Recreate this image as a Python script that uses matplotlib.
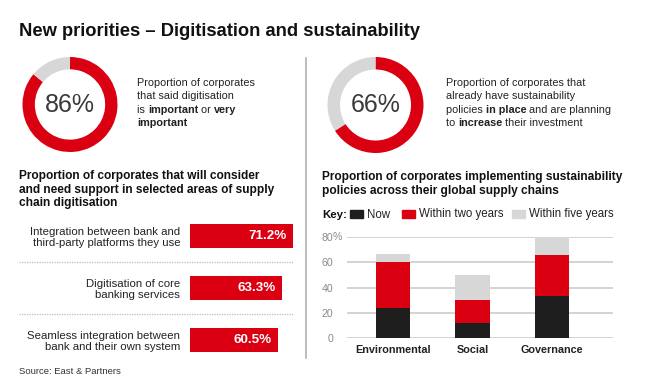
import matplotlib
matplotlib.use("Agg")
import matplotlib.pyplot as plt
from matplotlib.patches import Rectangle
import numpy as np

plt.rcParams['font.family'] = ['Liberation Sans', 'DejaVu Sans']

# ---------------- data ----------------
title = "New priorities \u2013 Digitisation and sustainability"

donut_left_value = 86
donut_right_value = 66

areas = ["Integration between bank and\nthird-party platforms they use",
         "Digitisation of core\nbanking services",
         "Seamless integration between\nbank and their own system"]
area_values = [71.2, 63.3, 60.5]

esg_categories = ["Environmental", "Social", "Governance"]
series_names = ["Now", "Within two years", "Within five years"]
now_vals = [24, 12, 33]
two_year_vals = [36, 18, 33]
five_year_vals = [7, 20, 14]
y_ticks = [0, 20, 40, 60, 80]

RED = '#DB0011'
GREY = '#D7D7D7'
BLACK = '#1E1E1E'
TXT = '#222222'

W, H = 650, 389
fig = plt.figure(figsize=(W / 100, H / 100), dpi=100)
fig.patch.set_facecolor('white')


def px_axes(left, top, width, height):
    return fig.add_axes([left / W, 1 - (top + height) / H, width / W, height / H])


def fx(x):
    return x / W


def fy(y):
    return 1 - y / H


renderer = fig.canvas.get_renderer()


def text_width(s, size, weight):
    t1 = fig.text(0, 0, s + "|", fontsize=size, fontweight=weight)
    t2 = fig.text(0, 0, "|", fontsize=size, fontweight=weight)
    w = t1.get_window_extent(renderer).width - t2.get_window_extent(renderer).width
    t1.remove()
    t2.remove()
    return w


def rich_line(x, y, runs, size, color=TXT):
    cx = x
    for s, weight in runs:
        fig.text(fx(cx), fy(y), s, fontsize=size, fontweight=weight,
                 color=color, va='baseline', ha='left')
        cx += text_width(s, size, weight)


# ---------------- title ----------------
fig.text(fx(19), fy(36), title, fontsize=13.2, fontweight='bold', color='#111111',
         va='baseline', ha='left')

# ---------------- divider ----------------
fig.add_artist(plt.Line2D([fx(306), fx(306)], [fy(58), fy(358)],
                          color='#B0B0B0', lw=1.2, transform=fig.transFigure))

# ---------------- donuts ----------------
def donut(cx, cy, r, value):
    ax = px_axes(cx - r, cy - r, 2 * r, 2 * r)
    ax.pie([value, 100 - value], colors=[RED, GREY], startangle=90,
           counterclock=False, radius=1.0,
           wedgeprops=dict(width=0.26, edgecolor='none'))
    ax.set_xlim(-1, 1)
    ax.set_ylim(-1, 1)
    ax.set_aspect('equal')
    ax.axis('off')
    ax.text(0, 0, f"{value}%", fontsize=18, color='#3A3A3A', ha='center',
            va='center')
    return ax

donut(70, 104.5, 47.5, donut_left_value)
donut(375.5, 105, 48, donut_right_value)

# ---------------- donut descriptions ----------------
ds = 7.8
base = [86, 99.3, 112.7, 126]
rich_line(137, base[0], [("Proportion of corporates", 'normal')], ds)
rich_line(137, base[1], [("that said digitisation", 'normal')], ds)
rich_line(137, base[2], [("is ", 'normal'), ("important", 'bold'), (" or ", 'normal'),
                         ("very", 'bold')], ds)
rich_line(137, base[3], [("important", 'bold')], ds)

rich_line(446, base[0], [("Proportion of corporates that", 'normal')], ds)
rich_line(446, base[1], [("already have sustainability", 'normal')], ds)
rich_line(446, base[2], [("policies ", 'normal'), ("in place", 'bold'),
                         (" and are planning", 'normal')], ds)
rich_line(446, base[3], [("to ", 'normal'), ("increase", 'bold'),
                         (" their investment", 'normal')], ds)

# ---------------- subtitles ----------------
ss = 8.55
for i, line in enumerate(["Proportion of corporates that will consider",
                          "and need support in selected areas of supply",
                          "chain digitisation"]):
    fig.text(fx(19), fy(179 + i * 13.6), line, fontsize=ss, fontweight='bold',
             color='#111111', va='baseline')
for i, line in enumerate(["Proportion of corporates implementing sustainability",
                          "policies across their global supply chains"]):
    fig.text(fx(322), fy(180 + i * 13.6), line, fontsize=ss, fontweight='bold',
             color='#111111', va='baseline')

# ---------------- left bar chart ----------------
axb = px_axes(190, 210, 110, 156)
y = np.arange(len(areas))
axb.barh(y, area_values, height=0.455, color=RED, edgecolor='none')
axb.set_xlim(0, 110 / 1.45)
axb.set_ylim(len(areas) - 0.5, -0.5)
axb.set_yticks(y, labels=areas)
axb.tick_params(axis='y', length=0, pad=7, labelsize=8.2, labelcolor=TXT)
for lbl in axb.get_yticklabels():
    lbl.set_linespacing(1.08)
axb.set_xticks([])
for s in axb.spines.values():
    s.set_visible(False)
axb.patch.set_alpha(0)
for yi, v in zip(y, area_values):
    axb.annotate(f"{v}%", xy=(v, yi), xytext=(-4.5, 0), textcoords='offset points',
                 ha='right', va='center', color='white', fontsize=9.6,
                 fontweight='bold')
for yi in y[:-1] + 0.5:
    axb.axhline(yi, xmin=(19 - 190) / 110, xmax=(294 - 190) / 110, clip_on=False,
                color='#BBBBBB', lw=0.9, ls=(0, (1, 1)))

# ---------------- source ----------------
fig.text(fx(19), fy(373.5), "Source: East & Partners", fontsize=6.8, color='#333333',
         va='baseline')

# ---------------- right stacked bar chart ----------------
axs = px_axes(347, 237.3, 266, 100.4)
x = np.arange(len(esg_categories))
series = [now_vals, two_year_vals, five_year_vals]
colors = [BLACK, RED, GREY]
bottom = np.zeros(len(x))
for vals, col, name in zip(series, colors, series_names):
    axs.bar(x, vals, bottom=bottom, width=0.43, color=col, edgecolor='none',
            label=name, zorder=3)
    bottom += np.array(vals)
axs.set_xlim(-0.58, 2.77)
axs.set_ylim(0, 80)
axs.set_yticks(y_ticks, labels=[str(t) for t in y_ticks])
axs.tick_params(axis='y', length=0, pad=10, labelsize=7.6, labelcolor='#8A8A8A')
axs.set_xticks(x, labels=esg_categories)
axs.tick_params(axis='x', length=0, pad=5, labelsize=7.8, labelcolor=TXT)
for lbl in axs.get_xticklabels():
    lbl.set_fontweight('semibold')
axs.grid(axis='y', color='#CCCCCC', lw=1.2, zorder=0)
axs.set_axisbelow(True)
for s in axs.spines.values():
    s.set_visible(False)
axs.patch.set_alpha(0)
axs.annotate("%", xy=(0, y_ticks[-1]), xycoords=('axes fraction', 'data'),
             xytext=(-10, 0), textcoords='offset points', ha='left', va='center',
             fontsize=7.6, color='#8A8A8A', annotation_clip=False)

# ---------------- key ----------------
fig.text(fx(322), fy(217.5), "Key:", fontsize=8.2, fontweight='bold', color='#111111',
         va='baseline')
key_x = [350, 402, 512]
for kx, col, name in zip(key_x, colors, series_names):
    fig.add_artist(Rectangle((fx(kx), fy(218)), 13 / W, 8 / H, color=col,
                             transform=fig.transFigure))
    fig.text(fx(kx + 17), fy(217.5), name, fontsize=8.3, color=TXT, va='baseline')

fig.savefig("out.png", dpi=100, facecolor='white')
